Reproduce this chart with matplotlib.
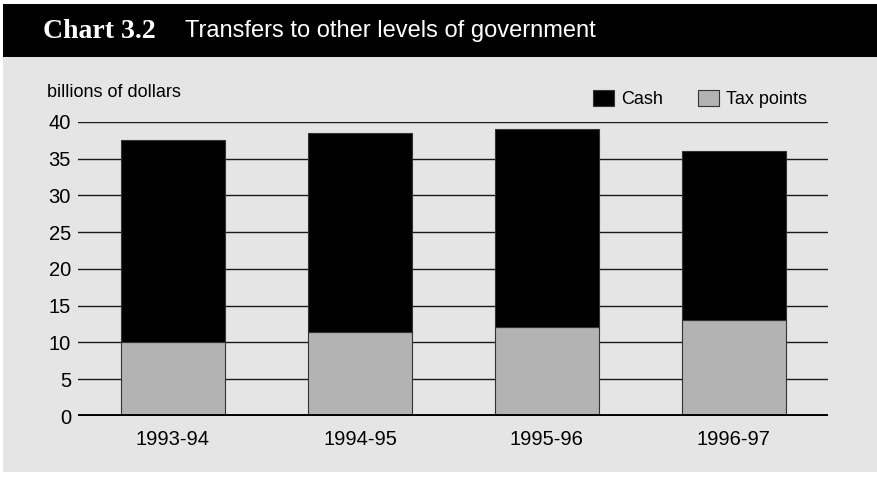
import matplotlib.pyplot as plt
from matplotlib.patches import Rectangle

# Federal transfers, billions of dollars
years = ["1993-94", "1994-95", "1995-96", "1996-97"]
tax_points = [10.0, 11.4, 12.1, 13.0]
cash = [27.6, 27.1, 26.9, 23.0]
y_ticks = [0, 5, 10, 15, 20, 25, 30, 35, 40]

panel = "#e5e5e5"
grey_bar = "#b3b3b3"

fig = plt.figure(figsize=(8.77, 4.78), dpi=100)
fig.patch.set_facecolor("white")

# background panel and black heading strip
fig.add_artist(Rectangle((0.0034, 0.0126), 1.0, 0.8682, transform=fig.transFigure,
                         facecolor=panel, edgecolor="none", zorder=0))
fig.add_artist(Rectangle((0.0034, 0.8808), 1.0, 0.1108, transform=fig.transFigure,
                         facecolor="black", edgecolor="none", zorder=0))
fig.text(0.049, 0.935, "Chart 3.2", color="white", fontsize=20, fontweight="bold",
         family="Liberation Serif", va="center", ha="left")
fig.text(0.211, 0.935, "Transfers to other levels of government", color="white",
         fontsize=17, family="Liberation Sans", va="center", ha="left")

ax = fig.add_axes([0.0889, 0.1297, 0.8552, 0.6151])
ax.set_facecolor(panel)

x = range(len(years))
width = 0.56
ax.bar(x, tax_points, width=width, color=grey_bar, edgecolor="#333333",
       linewidth=0.8, label="Tax points", zorder=3)
ax.bar(x, cash, width=width, bottom=tax_points, color="black", edgecolor="#333333",
       linewidth=0.8, label="Cash", zorder=3)

ax.set_xlim(-0.508, 3.503)
ax.set_ylim(0, 40)
ax.set_yticks(y_ticks)
ax.set_xticks(list(x))
ax.set_xticklabels(years)

for v in y_ticks[1:]:
    ax.axhline(v, color="#1a1a1a", linewidth=1.0, zorder=1)
ax.axhline(0, color="black", linewidth=2.8, zorder=4)

for s in ax.spines.values():
    s.set_visible(False)
ax.tick_params(axis="both", length=0, labelsize=14.5)
ax.tick_params(axis="y", pad=5)
ax.tick_params(axis="x", pad=10)
for lab in ax.get_xticklabels() + ax.get_yticklabels():
    lab.set_family("Liberation Sans")

fig.text(0.0536, 0.8075, "billions of dollars", fontsize=13, family="Liberation Sans",
         va="center", ha="left")

handles, labels = ax.get_legend_handles_labels()
fig.legend(handles[::-1], labels[::-1], loc="center left",
           bbox_to_anchor=(593 / 877, (478 - 99) / 478), ncol=2, frameon=False,
           prop={"family": "Liberation Sans", "size": 13}, borderpad=0,
           borderaxespad=0, handlelength=1.17, handleheight=1.05,
           handletextpad=0.4, columnspacing=1.9)

fig.savefig("out.png", dpi=100)
